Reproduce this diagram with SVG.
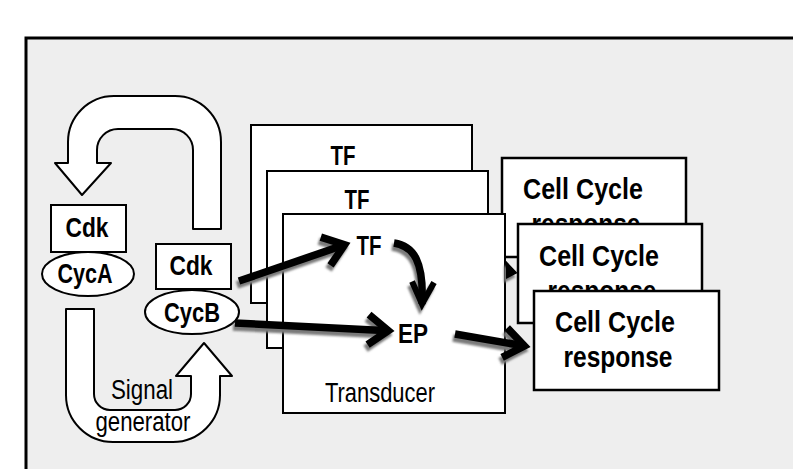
<svg xmlns="http://www.w3.org/2000/svg" width="793" height="469" viewBox="0 0 793 469">
<defs>
<style>
.frame{fill:#eeeeee;stroke:none}
.frameLine{fill:none;stroke:#000;stroke-width:3}
.big{fill:#fff;stroke:#000;stroke-width:2;stroke-linejoin:round}
.box{fill:#fff;stroke:#000;stroke-width:2}
.cc{fill:#fff;stroke:#000;stroke-width:2.5}
.t{font-family:"Liberation Sans",Arial,sans-serif;fill:#000;text-anchor:middle}
.b{font-weight:bold;font-size:27px}
.r{font-weight:normal;font-size:27px}
.ccT{font-weight:bold;font-size:29px}
.arr{fill:none;stroke:#000;stroke-width:7.5}
.sh{fill:none;stroke:#7a7a7a;stroke-width:7.5}
</style>
<marker id="hd" markerUnits="userSpaceOnUse" viewBox="-30 -20 40 40" refX="0" refY="0" markerWidth="40" markerHeight="40" orient="auto" overflow="visible">
<path d="M-20,-15 L0,0 L-20,15" fill="none" stroke="#000" stroke-width="7.5"/>
</marker>
<marker id="hdS" markerUnits="userSpaceOnUse" viewBox="-30 -20 40 40" refX="0" refY="0" markerWidth="40" markerHeight="40" orient="auto" overflow="visible">
<path d="M-20,-15 L0,0 L-20,15" fill="none" stroke="#7a7a7a" stroke-width="7.5"/>
</marker>
<marker id="hd2" markerUnits="userSpaceOnUse" viewBox="-30 -20 40 40" refX="0" refY="0" markerWidth="40" markerHeight="40" orient="auto" overflow="visible">
<path d="M-22,-11 L0,0 L-22,11" fill="none" stroke="#000" stroke-width="6"/>
</marker>
<marker id="hd2S" markerUnits="userSpaceOnUse" viewBox="-30 -20 40 40" refX="0" refY="0" markerWidth="40" markerHeight="40" orient="auto" overflow="visible">
<path d="M-22,-11 L0,0 L-22,11" fill="none" stroke="#7a7a7a" stroke-width="6"/>
</marker>
<filter id="blur" x="-20%" y="-50%" width="140%" height="200%"><feGaussianBlur stdDeviation="1"/></filter>
<clipPath id="gap"><rect x="506" y="250" width="11.5" height="45"/></clipPath>
</defs>

<rect class="frame" x="26" y="38" width="767" height="431"/>
<path class="frameLine" d="M26,469 L26,38 L793,38"/>

<g id="feedback-arrow">
<path class="big" d="M193,229 L221,229 L221,142 A46,46 0 0 0 175,96 L114,96 A46,46 0 0 0 68,142 L68,163 L55,163 L82,195 L111,163 L97,163 L97,150 A21,21 0 0 1 118,129 L172,129 A21,21 0 0 1 193,150 Z"/>
</g>

<g id="signal-generator">
<path class="big" d="M66,309 L94,309 L94,394 A16,16 0 0 0 110,410 L175,410 A16,16 0 0 0 191,394 L191,376 L176,376 L204,343 L232,376 L220,376 L220,395 A47,47 0 0 1 173,442 L113,442 A47,47 0 0 1 66,395 Z"/>
<text class="t r" x="142" y="399" textLength="62" lengthAdjust="spacingAndGlyphs">Signal</text>
<text class="t r" x="143" y="431" textLength="95" lengthAdjust="spacingAndGlyphs">generator</text>
</g>

<g id="cdk-cycA">
<rect class="box" x="51" y="205" width="75" height="47"/>
<text class="t b" x="87" y="237" textLength="43" lengthAdjust="spacingAndGlyphs">Cdk</text>
<ellipse class="box" cx="88" cy="274" rx="46" ry="22"/>
<text class="t b" x="85" y="283" textLength="55" lengthAdjust="spacingAndGlyphs">CycA</text>
</g>

<g id="cdk-cycB">
<rect class="box" x="156" y="244" width="75" height="45"/>
<text class="t b" x="191" y="275" textLength="43" lengthAdjust="spacingAndGlyphs">Cdk</text>
<ellipse class="box" cx="192" cy="312" rx="47" ry="22"/>
<text class="t b" x="192" y="322" textLength="56" lengthAdjust="spacingAndGlyphs">CycB</text>
</g>

<g id="transducer-1">
<rect class="box" x="251" y="125" width="221" height="178"/>
<text class="t b" x="343" y="165" textLength="25" lengthAdjust="spacingAndGlyphs">TF</text>
</g>
<g id="transducer-2">
<rect class="box" x="267" y="171" width="221" height="177"/>
<text class="t b" x="357" y="209" textLength="25" lengthAdjust="spacingAndGlyphs">TF</text>
</g>

<g id="response-1">
<rect class="cc" x="502" y="158" width="184" height="99"/>
<text class="t ccT" x="583" y="199" textLength="120" lengthAdjust="spacingAndGlyphs">Cell Cycle</text>
<text class="t ccT" x="586" y="234" textLength="109" lengthAdjust="spacingAndGlyphs">response</text>
</g>

<g id="transducer-3">
<rect class="box" x="283" y="214" width="222" height="199"/>
<text class="t b" x="369" y="255" textLength="25" lengthAdjust="spacingAndGlyphs">TF</text>
<text class="t b" x="413" y="343" textLength="30" lengthAdjust="spacingAndGlyphs">EP</text>
<text class="t r" x="380" y="402" textLength="110" lengthAdjust="spacingAndGlyphs">Transducer</text>
</g>

<g id="response-2">
<rect class="cc" x="518" y="224" width="184" height="99"/>
<text class="t ccT" x="599" y="266" textLength="120" lengthAdjust="spacingAndGlyphs">Cell Cycle</text>
<text class="t ccT" x="602" y="301" textLength="109" lengthAdjust="spacingAndGlyphs">response</text>
</g>

<g id="response-3">
<rect class="cc" x="534" y="291" width="185" height="99"/>
<text class="t ccT" x="615" y="332" textLength="120" lengthAdjust="spacingAndGlyphs">Cell Cycle</text>
<text class="t ccT" x="618" y="367" textLength="109" lengthAdjust="spacingAndGlyphs">response</text>
</g>

<g id="connectors">
<g transform="translate(-2,4)" filter="url(#blur)">
<path class="sh" d="M239,281 L344.6,244.8" marker-end="url(#hdS)"/>
<path class="sh" d="M235,323 L388.3,330.7" marker-end="url(#hdS)"/>
<path class="sh" stroke-width="6" d="M394,243 C414,246 424,262 422,304" marker-end="url(#hd2S)"/>
<path class="sh" d="M455,334 L524.4,346" marker-end="url(#hdS)"/>
<g clip-path="url(#gap)"><path class="sh" d="M448,261 L511.4,272" marker-end="url(#hdS)"/></g>
</g>
<path class="arr" d="M239,281 L344.6,244.8" marker-end="url(#hd)"/>
<path class="arr" d="M235,323 L388.3,330.7" marker-end="url(#hd)"/>
<path class="arr" stroke-width="6" d="M394,243 C414,246 424,262 422,304" marker-end="url(#hd2)"/>
<path class="arr" d="M455,334 L524.4,346" marker-end="url(#hd)"/>
<g clip-path="url(#gap)"><path class="arr" d="M448,261 L511.4,272" marker-end="url(#hd)"/></g>
</g>
</svg>
